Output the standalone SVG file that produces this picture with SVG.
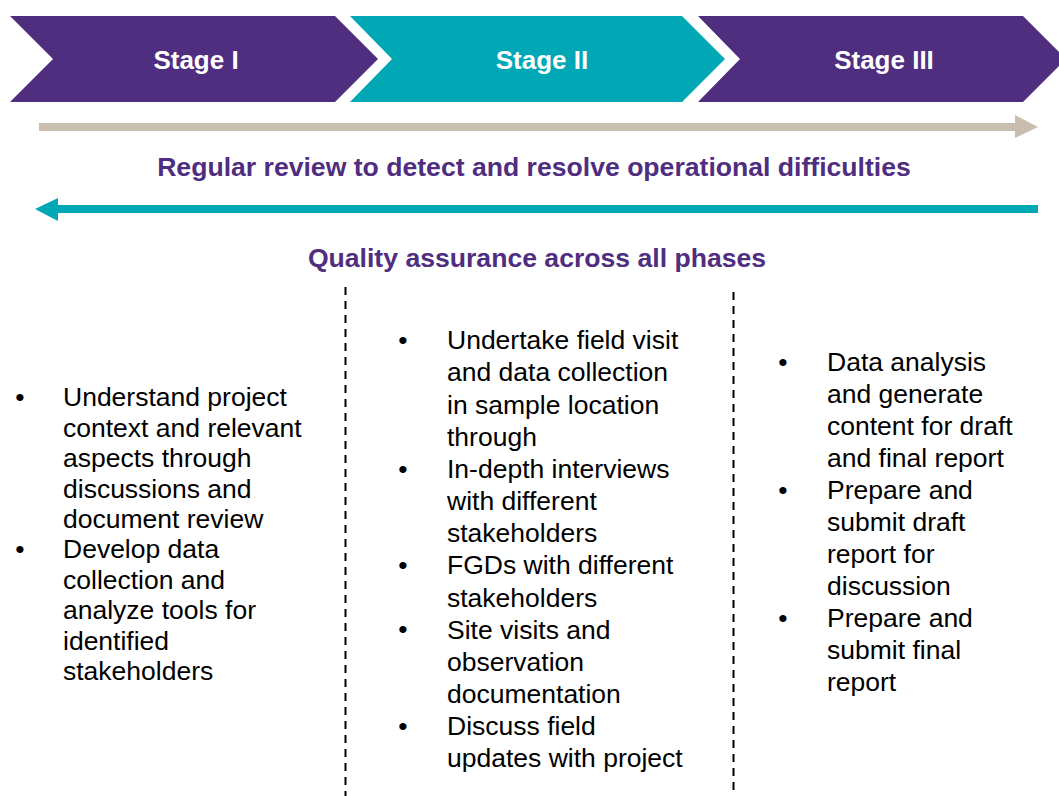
<svg xmlns="http://www.w3.org/2000/svg" width="1059" height="796" viewBox="0 0 1059 796">
  <style>
    .purple { fill: #4f2d7f; }
    .teal { fill: #00a8b5; }
    .stage { font-family: "Liberation Sans", Arial, sans-serif; font-weight: bold; font-size: 26px; fill: #ffffff; text-anchor: middle; }
    .head { font-family: "Liberation Sans", Arial, sans-serif; font-weight: bold; font-size: 26.6px; fill: #4f2d7f; text-anchor: middle; }
    .body { font-family: "Liberation Sans", Arial, sans-serif; font-size: 26.5px; fill: #000000; }
    .bullet { font-family: "Liberation Sans", Arial, sans-serif; font-size: 26.5px; fill: #000000; text-anchor: middle; }
    .divider { stroke: #000000; stroke-width: 2; stroke-dasharray: 8 6; fill: none; }
  </style>
  <rect width="1059" height="796" fill="#ffffff"/>

  <!-- stage chevrons -->
  <g id="stage-1">
    <polygon class="purple" points="10,16 335,16 378,59 335,102 10,102 53,59"/>
    <text class="stage" x="196" y="69">Stage I</text>
  </g>
  <g id="stage-2">
    <polygon class="teal" points="350,16 682,16 725,59 682,102 350,102 392,59"/>
    <text class="stage" x="542" y="69">Stage II</text>
  </g>
  <g id="stage-3">
    <polygon class="purple" points="698,16 1023,16 1066,59 1023,102 698,102 740,59"/>
    <text class="stage" x="884" y="69">Stage III</text>
  </g>

  <!-- forward and backward process arrows -->
  <g id="connectors">
    <rect x="39" y="123" width="977" height="8" fill="#c8bdaf"/>
    <polygon points="1015,115 1038,127 1015,138" fill="#c8bdaf"/>
    <rect x="57" y="205" width="981" height="8" fill="#00a8b5"/>
    <polygon points="35,209 58,198 58,221" fill="#00a8b5"/>
  </g>

  <text id="review-label" class="head" x="534" y="176">Regular review to detect and resolve operational difficulties</text>
  <text id="qa-label" class="head" x="537" y="267">Quality assurance across all phases</text>

  <!-- column dividers -->
  <g id="dividers">
    <line class="divider" x1="345.5" y1="287" x2="345.5" y2="796"/>
    <line class="divider" x1="733.5" y1="292" x2="733.5" y2="792"/>
  </g>

  <!-- Stage I activities -->
  <g id="activities-1">
    <text class="bullet" x="20" y="406">•</text>
    <text class="bullet" x="20" y="558">•</text>
    <text class="body" x="63" y="406">Understand project</text>
    <text class="body" x="63" y="436.5">context and relevant</text>
    <text class="body" x="63" y="467">aspects through</text>
    <text class="body" x="63" y="497.5">discussions and</text>
    <text class="body" x="63" y="528">document review</text>
    <text class="body" x="63" y="558">Develop data</text>
    <text class="body" x="63" y="588.5">collection and</text>
    <text class="body" x="63" y="619">analyze tools for</text>
    <text class="body" x="63" y="649.5">identified</text>
    <text class="body" x="63" y="680">stakeholders</text>
  </g>

  <!-- Stage II activities -->
  <g id="activities-2">
    <text class="bullet" x="403" y="349">•</text>
    <text class="bullet" x="403" y="478">•</text>
    <text class="bullet" x="403" y="574">•</text>
    <text class="bullet" x="403" y="638">•</text>
    <text class="bullet" x="403" y="735">•</text>
    <text class="body" x="447" y="349">Undertake field visit</text>
    <text class="body" x="447" y="381">and data collection</text>
    <text class="body" x="447" y="413.5">in sample location</text>
    <text class="body" x="447" y="445.5">through</text>
    <text class="body" x="447" y="478">In-depth interviews</text>
    <text class="body" x="447" y="510">with different</text>
    <text class="body" x="447" y="542">stakeholders</text>
    <text class="body" x="447" y="574">FGDs with different</text>
    <text class="body" x="447" y="606.5">stakeholders</text>
    <text class="body" x="447" y="638.5">Site visits and</text>
    <text class="body" x="447" y="670.5">observation</text>
    <text class="body" x="447" y="702.5">documentation</text>
    <text class="body" x="447" y="735">Discuss field</text>
    <text class="body" x="447" y="767">updates with project</text>
  </g>

  <!-- Stage III activities -->
  <g id="activities-3">
    <text class="bullet" x="783" y="371">•</text>
    <text class="bullet" x="783" y="499">•</text>
    <text class="bullet" x="783" y="627">•</text>
    <text class="body" x="827" y="371">Data analysis</text>
    <text class="body" x="827" y="403">and generate</text>
    <text class="body" x="827" y="435">content for draft</text>
    <text class="body" x="827" y="467">and final report</text>
    <text class="body" x="827" y="499">Prepare and</text>
    <text class="body" x="827" y="531">submit draft</text>
    <text class="body" x="827" y="563">report for</text>
    <text class="body" x="827" y="595">discussion</text>
    <text class="body" x="827" y="627">Prepare and</text>
    <text class="body" x="827" y="659">submit final</text>
    <text class="body" x="827" y="691">report</text>
  </g>
</svg>
